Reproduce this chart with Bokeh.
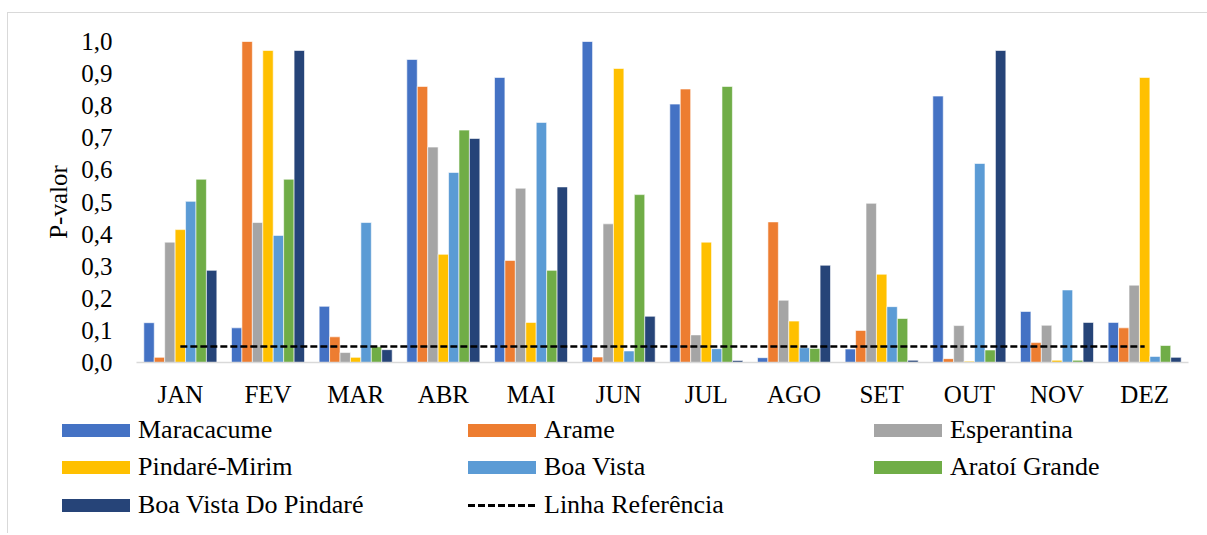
from bokeh.plotting import figure
from bokeh.models import ColumnDataSource, FactorRange, FixedTicker, CustomJSTickFormatter, Div
from bokeh.layouts import column
from bokeh.transform import dodge
from bokeh.embed import file_html
from bokeh.resources import INLINE

months = ["JAN", "FEV", "MAR", "ABR", "MAI", "JUN", "JUL", "AGO", "SET", "OUT", "NOV", "DEZ"]

series_names = ["Maracacume", "Arame", "Esperantina", "Pindaré-Mirim", "Boa Vista",
                "Aratoí Grande", "Boa Vista Do Pindaré"]

maracacume = [0.124, 0.108, 0.175, 0.944, 0.888, 1.000, 0.805, 0.015, 0.042, 0.830, 0.159, 0.125]
arame = [0.016, 1.000, 0.080, 0.860, 0.318, 0.017, 0.852, 0.438, 0.100, 0.012, 0.062, 0.108]
esperantina = [0.375, 0.436, 0.031, 0.671, 0.543, 0.432, 0.086, 0.194, 0.496, 0.115, 0.116, 0.241]
pindare_mirim = [0.414, 0.972, 0.016, 0.337, 0.125, 0.916, 0.375, 0.129, 0.275, 0.004, 0.007, 0.888]
boa_vista = [0.502, 0.396, 0.436, 0.592, 0.748, 0.036, 0.043, 0.046, 0.174, 0.620, 0.226, 0.019]
aratoi_grande = [0.571, 0.571, 0.049, 0.724, 0.287, 0.523, 0.860, 0.044, 0.137, 0.039, 0.007, 0.053]
boa_vista_pindare = [0.287, 0.972, 0.040, 0.698, 0.547, 0.144, 0.006, 0.303, 0.007, 0.972, 0.125, 0.016]

ref_label = "Linha Referência"
ref_value = 0.05
ref_months = ["JAN", "DEZ"]

y_ticks = [0.0, 0.1, 0.2, 0.3, 0.4, 0.5, 0.6, 0.7, 0.8, 0.9, 1.0]

colors = ["#4472C4", "#ED7D31", "#A5A5A5", "#FFC000", "#5B9BD5", "#70AD47", "#264478"]
keys = ["s0", "s1", "s2", "s3", "s4", "s5", "s6"]
values = [maracacume, arame, esperantina, pindare_mirim, boa_vista, aratoi_grande, boa_vista_pindare]

data = {"month": months}
for k, v in zip(keys, values):
    data[k] = v
source = ColumnDataSource(data)

FONT = "Liberation Serif"
FS = "25px"
W = 1199

# ---------------- main chart ----------------
p = figure(x_range=FactorRange(factors=months, range_padding=0), y_range=(0, 1.0),
           width=W, height=400, output_backend="svg", toolbar_location=None,
           min_border_left=128, min_border_right=19, min_border_top=28, min_border_bottom=51)
p.outline_line_color = None
p.xgrid.visible = False
p.ygrid.visible = False

bw = 0.119
for i, (k, c) in enumerate(zip(keys, colors)):
    p.vbar(x=dodge("month", (i - 3) * bw, range=p.x_range), top=k, width=bw, source=source,
           fill_color=c, line_color="white", line_width=0.6)

p.line(x=ref_months, y=[ref_value, ref_value], line_color="black", line_width=2.5,
       line_dash="7 3")

p.yaxis.ticker = FixedTicker(ticks=y_ticks)
p.yaxis.formatter = CustomJSTickFormatter(code="return tick.toFixed(1).replace('.', ',')")
p.yaxis.axis_line_color = None
p.yaxis.major_tick_line_color = None
p.yaxis.minor_tick_line_color = None
p.yaxis.major_tick_out = 0
p.yaxis.major_tick_in = 0
p.yaxis.major_label_standoff = 24
p.yaxis.major_label_text_font = FONT
p.yaxis.major_label_text_font_size = FS
p.yaxis.major_label_text_color = "black"
p.yaxis.axis_label = "P-valor"
p.yaxis.axis_label_text_font = FONT
p.yaxis.axis_label_text_font_size = FS
p.yaxis.axis_label_text_font_style = "normal"
p.yaxis.axis_label_text_color = "black"
p.yaxis.axis_label_standoff = 6

p.xaxis.axis_line_color = "#D9D9D9"
p.xaxis.axis_line_width = 1.5
p.xaxis.major_tick_line_color = None
p.xaxis.minor_tick_line_color = None
p.xaxis.major_tick_out = 0
p.xaxis.major_tick_in = 0
p.xaxis.major_label_standoff = 18
p.xaxis.major_label_text_font = FONT
p.xaxis.major_label_text_font_size = FS
p.xaxis.major_label_text_color = "black"

# ---------------- legend (3 columns x 3 rows) ----------------
col_x = [54, 460, 866]
row_top = [3, 40, 78]
FAMILY = "Liberation Serif, Times New Roman, serif"
TXT = f"font-family:{FAMILY};font-size:26px;color:#000;line-height:28px;"


def swatch(color):
    return (f'<span style="display:inline-block;width:68px;height:13px;background:{color};'
            f'margin-right:8px;flex:none;"></span>')


ref_swatch = ('<span style="display:inline-block;width:68px;height:3px;'
              'background:repeating-linear-gradient(to right,#000 0 7px,transparent 7px 10px);'
              'margin-right:8px;flex:none;"></span>')

entries = [(series_names[i], swatch(colors[i])) for i in range(7)] + [(ref_label, ref_swatch)]

parts = []
for n, (label, sw) in enumerate(entries):
    r, c = divmod(n, 3)
    parts.append(
        f'<div style="position:absolute;left:{col_x[c]}px;top:{row_top[r]}px;height:28px;'
        f'display:flex;align-items:center;white-space:nowrap;{TXT}">{sw}'
        f'<span style="{TXT}">{label}</span></div>')

html = (f'<div style="position:relative;width:{W}px;height:120px;margin:0;padding:0;{TXT}">'
        + "".join(parts) + '</div>')

legend_div = Div(text=html, width=W, height=120, margin=0,
                 styles={"font-family": FAMILY, "font-size": "26px", "color": "#000",
                         "margin": "0", "padding": "0"})

layout = column(p, legend_div, spacing=0)
layout.styles = {"margin-left": "7px", "margin-top": "12px",
                 "border-top": "1px solid #d9d9d9", "border-left": "1px solid #d9d9d9"}

open("out.html", "w").write(file_html(layout, INLINE))
